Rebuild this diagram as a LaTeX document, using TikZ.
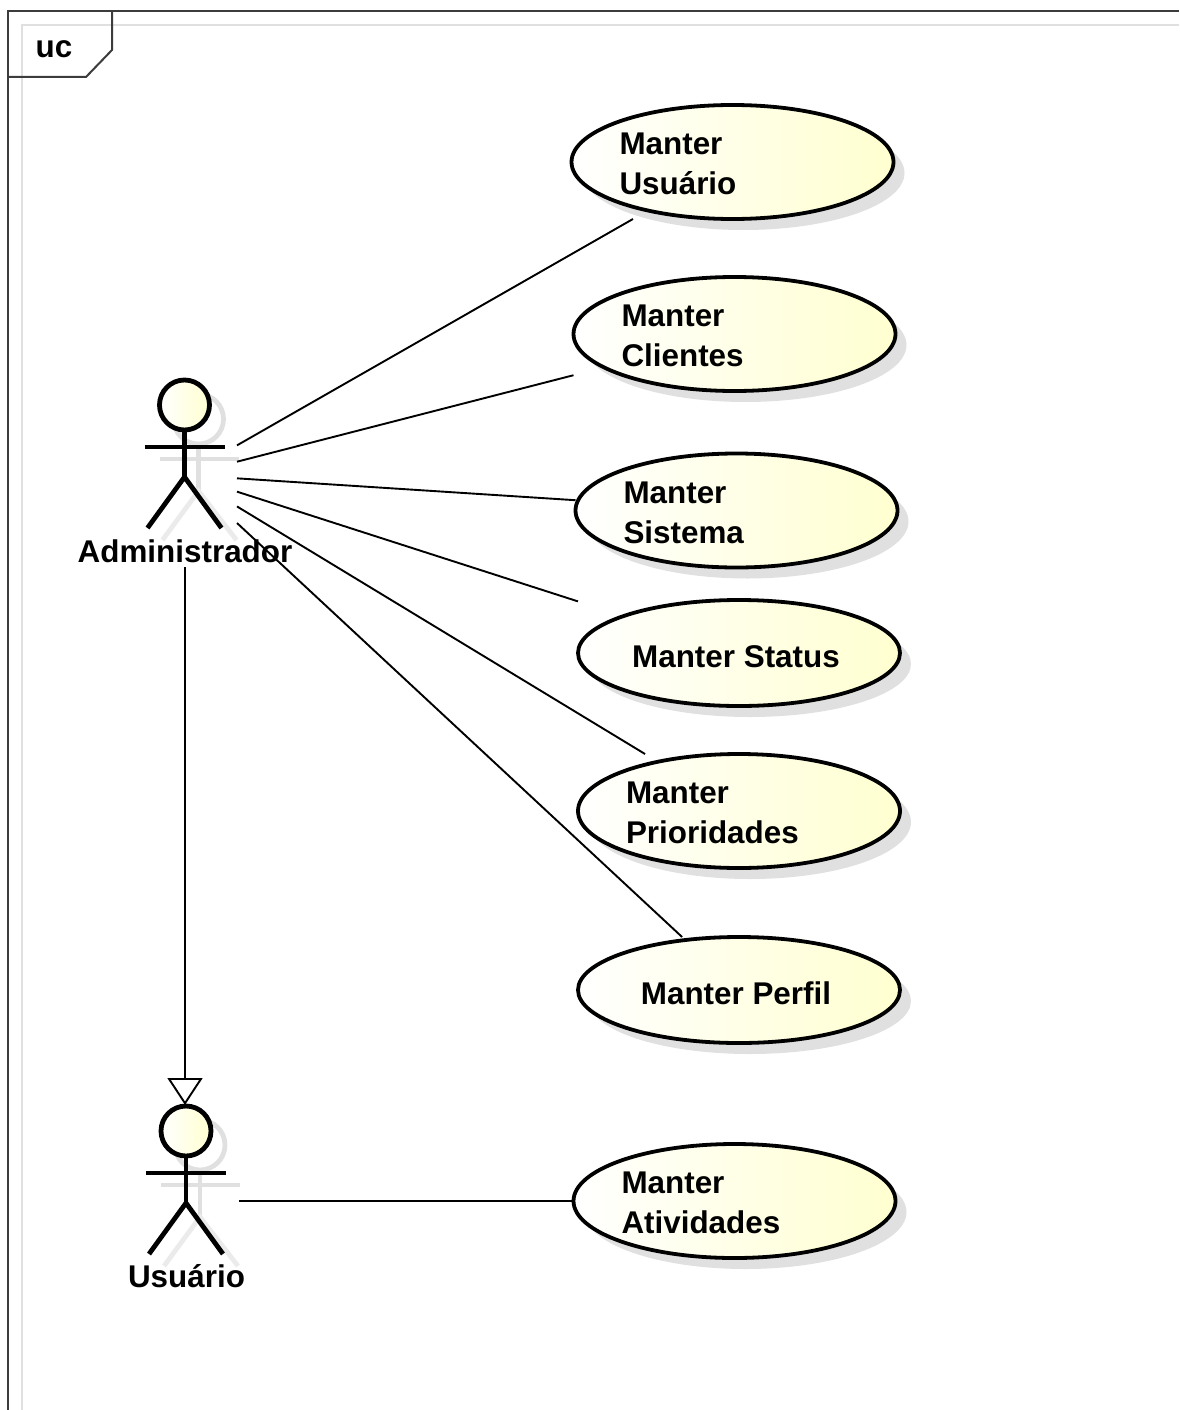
\documentclass[tikz,border=0pt]{standalone}
\usepackage{fontspec}
\setmainfont{Liberation Sans}
\usetikzlibrary{shapes.geometric, shadows, arrows.meta}
\definecolor{ucyellow}{RGB}{255,255,208}
\definecolor{ucshadow}{RGB}{224,224,224}
\definecolor{ucframe}{RGB}{60,60,60}
\tikzset{diagram text/.style={font=\fontsize{31.4}{40}\selectfont\bfseries}}
\tikzset{use case oval/.style={draw=black, line width=3.8pt, ellipse, inner sep=0pt, outer sep=0pt, minimum width=322pt, minimum height=114pt, left color=white, right color=ucyellow, drop shadow={shadow xshift=11pt, shadow yshift=-11pt, fill=ucshadow, opacity=1}}}
\tikzset{use case/.style={diagram text, rectangle, inner sep=0pt, outer sep=0pt, minimum width=322pt, minimum height=114pt, align=left, execute at begin node={\rule{0pt}{26pt}}}}
\tikzset{single line/.style={minimum height=106pt, execute at begin node={\rule{0pt}{29pt}}, execute at end node={\rule{6pt}{0pt}}}}
\tikzset{actor box/.style={rectangle, inner sep=0pt, outer sep=0pt, minimum width=104pt, minimum height=184pt}}
\tikzset{link/.style={draw=black, line width=1.9pt}}
\tikzset{stick figure/.pic={
\draw[ucshadow, line width=4.8pt] (14,14) circle (25pt);
\draw[ucshadow, line width=4.8pt] (-25,54) -- (54,54);
\draw[ucshadow, line width=4.8pt] (14,39) -- (14,86);
\draw[black!8, line width=4.8pt] (-22,135) -- (14,86) -- (52,135);
\draw[black, line width=4.8pt] (0,25) -- (0,72);
\draw[black, line width=4.8pt] (-40,42) -- (40,42);
\draw[black, line width=4.8pt] (-37,123) -- (0,72) -- (37,123);
\draw[black, line width=4.8pt, left color=white, right color=ucyellow] (0,0) circle (25pt);
}}

\begin{document}
\begin{tikzpicture}[x=1pt, y=-1pt]
\useasboundingbox (0,0) rectangle (1179,1410);
% frame
\draw[black!12, line width=2pt] (22,1410) -- (22,25) -- (1179,25);
\draw[ucframe, line width=2pt] (8,1410) -- (8,11) -- (1179,11);
\draw[ucframe, line width=2pt] (112,11) -- (112,50) -- (86,77) -- (8,77);
\node[diagram text] (uc) at (54,49) {uc};
% use cases
\node[use case oval] (muoval) at (732.5,162) {};
\node[use case, text width=226pt] (mu) at (muoval) {Manter\\Usuário};
\node[use case oval] (mcoval) at (734.5,334) {};
\node[use case, text width=226pt] (mc) at (mcoval) {Manter\\Clientes};
\node[use case oval] (msoval) at (736.5,510.5) {};
\node[use case, text width=226pt] (ms) at (msoval) {Manter\\Sistema};
\node[use case oval, minimum height=106pt] (mstoval) at (739,653) {};
\node[use case, single line] (mst) at (mstoval) {Manter Status};
\node[use case oval] (mpoval) at (739,811) {};
\node[use case, text width=226pt] (mp) at (mpoval) {Manter\\Prioridades};
\node[use case oval, minimum height=106pt] (mpfoval) at (739,990) {};
\node[use case, single line] (mpf) at (mpfoval) {Manter Perfil};
\node[use case oval] (maoval) at (734.5,1201) {};
\node[use case, text width=226pt] (ma) at (maoval) {Manter\\Atividades};
% actors
\node[actor box] (admin) at (185,475) {};
\node[actor box] (user) at (187,1201) {};
\pic at (184.5,405) {stick figure};
\pic at (186,1131) {stick figure};
\node[diagram text] (adminlabel) at (185,551) {Administrador};
\node[diagram text] (userlabel) at (186.5,1276) {Usuário};
% links
\draw[link] (admin) -- (mu);
\draw[link] (admin) -- (mc);
\draw[link] (admin) -- (ms);
\draw[link] (admin) -- (mst);
\draw[link] (admin) -- (mp);
\draw[link] (admin) -- (mpf);
\draw[link] (user) -- (ma);
\coordinate (usertop) at (185,1105);
\draw[link, -{Triangle[open, length=27pt, width=35pt]}] (admin.south) -- (usertop);
\end{tikzpicture}
\end{document}
